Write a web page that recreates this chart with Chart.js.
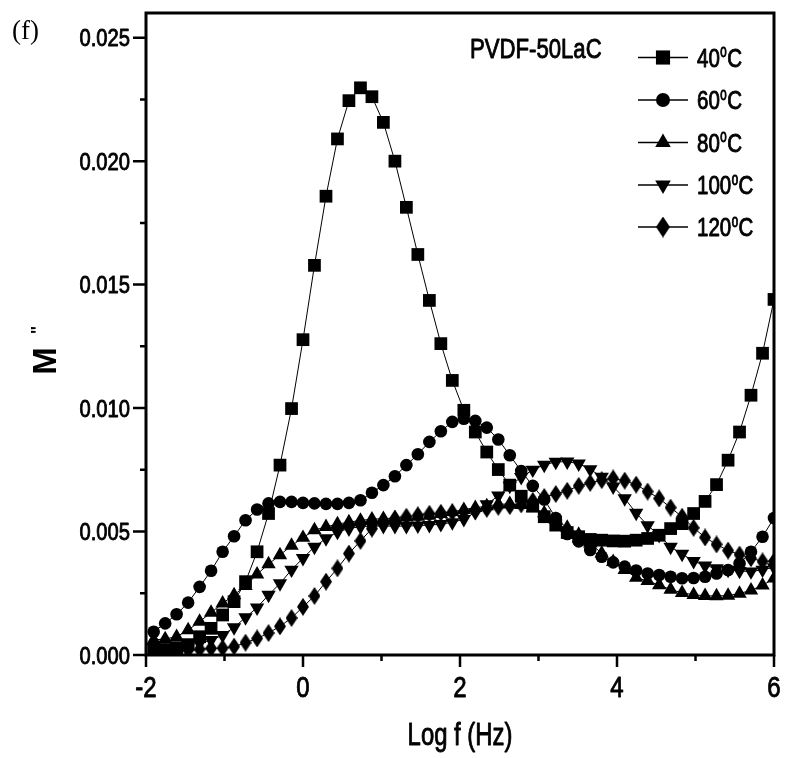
<!DOCTYPE html>
<html>
<head>
<meta charset="utf-8">
<script src="https://cdn.jsdelivr.net/npm/chart.js@4.4.0/dist/chart.umd.min.js"></script>
<style>
  html, body { margin: 0; padding: 0; background: #fff; }
  canvas { display: block; }
</style>
</head>
<body>
<canvas id="chart" width="785" height="758"></canvas>
<script>
// log f (Hz), same grid for every temperature
const logF = [
  -1.902, -1.756, -1.610, -1.463, -1.317, -1.171, -1.024, -0.878, -0.732, -0.585,
  -0.439, -0.293, -0.146, 0.000, 0.146, 0.293, 0.439, 0.585, 0.732, 0.878,
  1.024, 1.171, 1.317, 1.463, 1.610, 1.756, 1.902, 2.049, 2.195, 2.341,
  2.488, 2.634, 2.780, 2.927, 3.073, 3.220, 3.366, 3.512, 3.659, 3.805,
  3.951, 4.098, 4.244, 4.390, 4.537, 4.683, 4.829, 4.976, 5.122, 5.268,
  5.415, 5.561, 5.707, 5.854, 6.000
];

// M'' at each temperature
const m40 = [
  0.00020, 0.00022, 0.00030, 0.00042, 0.00074, 0.00108, 0.00162, 0.00216, 0.00297, 0.00418,
  0.00573, 0.00769, 0.00998, 0.01277, 0.01578, 0.01858, 0.02090, 0.02245, 0.02297, 0.02261,
  0.02157, 0.02000, 0.01813, 0.01622, 0.01436, 0.01261, 0.01112, 0.00991, 0.00903, 0.00822,
  0.00751, 0.00688, 0.00643, 0.00603, 0.00560, 0.00526, 0.00496, 0.00479, 0.00468, 0.00465,
  0.00462, 0.00461, 0.00465, 0.00472, 0.00485, 0.00512, 0.00532, 0.00573, 0.00622, 0.00690,
  0.00789, 0.00903, 0.01052, 0.01222, 0.01440
];
const m60 = [
  0.00094, 0.00128, 0.00165, 0.00212, 0.00276, 0.00341, 0.00418, 0.00481, 0.00546, 0.00589,
  0.00614, 0.00620, 0.00620, 0.00616, 0.00614, 0.00612, 0.00612, 0.00616, 0.00627, 0.00657,
  0.00688, 0.00724, 0.00769, 0.00813, 0.00863, 0.00906, 0.00944, 0.00957, 0.00948, 0.00921,
  0.00873, 0.00809, 0.00745, 0.00685, 0.00630, 0.00555, 0.00490, 0.00460, 0.00425, 0.00398,
  0.00375, 0.00358, 0.00342, 0.00330, 0.00324, 0.00317, 0.00311, 0.00312, 0.00317, 0.00330,
  0.00344, 0.00371, 0.00418, 0.00479, 0.00555
];
const m80 = [
  0.00061, 0.00065, 0.00074, 0.00101, 0.00135, 0.00172, 0.00209, 0.00243, 0.00280, 0.00327,
  0.00368, 0.00405, 0.00443, 0.00475, 0.00506, 0.00519, 0.00530, 0.00538, 0.00545, 0.00550,
  0.00552, 0.00555, 0.00557, 0.00560, 0.00565, 0.00572, 0.00580, 0.00588, 0.00596, 0.00603,
  0.00610, 0.00612, 0.00608, 0.00595, 0.00575, 0.00548, 0.00516, 0.00488, 0.00452, 0.00412,
  0.00377, 0.00345, 0.00313, 0.00300, 0.00283, 0.00265, 0.00252, 0.00244, 0.00240, 0.00239,
  0.00241, 0.00249, 0.00262, 0.00282, 0.00310
];
const m100 = [
  0.00030, 0.00030, 0.00035, 0.00040, 0.00048, 0.00060, 0.00080, 0.00112, 0.00152, 0.00192,
  0.00243, 0.00290, 0.00345, 0.00392, 0.00438, 0.00472, 0.00498, 0.00512, 0.00520, 0.00522,
  0.00522, 0.00522, 0.00522, 0.00524, 0.00526, 0.00530, 0.00537, 0.00550, 0.00578, 0.00610,
  0.00645, 0.00685, 0.00720, 0.00750, 0.00770, 0.00782, 0.00783, 0.00775, 0.00752, 0.00721,
  0.00682, 0.00634, 0.00575, 0.00525, 0.00485, 0.00438, 0.00409, 0.00380, 0.00362, 0.00351,
  0.00344, 0.00340, 0.00338, 0.00345, 0.00355
];
const m120 = [
  0.00010, 0.00012, 0.00015, 0.00019, 0.00023, 0.00027, 0.00028, 0.00034, 0.00050, 0.00067,
  0.00089, 0.00116, 0.00150, 0.00195, 0.00239, 0.00297, 0.00351, 0.00411, 0.00462, 0.00512,
  0.00540, 0.00552, 0.00560, 0.00566, 0.00572, 0.00576, 0.00578, 0.00580, 0.00584, 0.00592,
  0.00600, 0.00603, 0.00610, 0.00624, 0.00640, 0.00652, 0.00665, 0.00685, 0.00697, 0.00708,
  0.00715, 0.00706, 0.00690, 0.00662, 0.00634, 0.00597, 0.00560, 0.00515, 0.00476, 0.00448,
  0.00423, 0.00407, 0.00392, 0.00379, 0.00380
];

const temps = ["40", "60", "80", "100", "120"];
const sample = "PVDF-50LaC";

const xTicks = [-2, -1, 0, 1, 2, 3, 4, 5, 6];
const xTickLabels = ["-2", "", "0", "", "2", "", "4", "", "6"];
const yTicks = [0, 0.0025, 0.005, 0.0075, 0.01, 0.0125, 0.015, 0.0175, 0.02, 0.0225, 0.025];
const yTickLabels = ["0.000", "", "0.005", "", "0.010", "", "0.015", "", "0.020", "", "0.025"];

const SANS = "'Liberation Sans', Arial, sans-serif";
const SERIF = "'Liberation Serif', 'Times New Roman', serif";

// tall diamond marker
function diamond(w, h) {
  const c = document.createElement("canvas");
  c.width = w;
  c.height = h;
  const g = c.getContext("2d");
  g.fillStyle = "#000";
  g.beginPath();
  g.moveTo(w / 2, 0);
  g.lineTo(w, h / 2);
  g.lineTo(w / 2, h);
  g.lineTo(0, h / 2);
  g.closePath();
  g.fill();
  return c;
}

const markers = [
  { pointStyle: "rect", radius: 9, rotation: 0 },
  { pointStyle: "circle", radius: 6.3, rotation: 0 },
  { pointStyle: "triangle", radius: 8.3, rotation: 0 },
  { pointStyle: "triangle", radius: 8.3, rotation: 180 },
  { pointStyle: diamond(12, 18), radius: 9, rotation: 0 },
];
const legendMarkers = [
  { pointStyle: "rect", radius: 10, rotation: 0 },
  { pointStyle: "circle", radius: 7, rotation: 0 },
  { pointStyle: "triangle", radius: 9, rotation: 0 },
  { pointStyle: "triangle", radius: 9, rotation: 180 },
  { pointStyle: diamond(14, 21), radius: 10, rotation: 0 },
];

const series = [m40, m60, m80, m100, m120];

const datasets = series.map((vals, i) => ({
  label: temps[i] + "\u00b0C",
  data: logF.map((x, k) => ({ x: x, y: vals[k] })),
  borderColor: "#000",
  borderWidth: 1,
  backgroundColor: "#000",
  pointBackgroundColor: "#000",
  pointBorderColor: "#000",
  pointBorderWidth: 0,
  pointStyle: markers[i].pointStyle,
  pointRadius: markers[i].radius,
  pointRotation: markers[i].rotation,
  tension: 0,
  fill: false,
}));

// condensed look: Liberation Sans squeezed horizontally, lightly emboldened
function narrowText(ctx, text, x, y, size, align, sx) {
  ctx.save();
  ctx.font = size + "px " + SANS;
  ctx.translate(x, y);
  ctx.scale(sx, 1);
  ctx.textAlign = align;
  ctx.textBaseline = "alphabetic";
  ctx.lineWidth = 0.9;
  ctx.lineJoin = "round";
  ctx.fillText(text, 0, 0);
  ctx.strokeText(text, 0, 0);
  const w = ctx.measureText(text).width * sx;
  ctx.restore();
  return w;
}

// frame, outward ticks, tick labels, titles and legend
const decorations = {
  id: "decorations",
  afterDraw(chart) {
    const ctx = chart.ctx;
    const a = chart.chartArea;
    const xs = chart.scales.x;
    const ys = chart.scales.y;
    ctx.save();
    ctx.strokeStyle = "#000";
    ctx.fillStyle = "#000";

    ctx.lineWidth = 3;
    ctx.strokeRect(a.left, a.top, a.right - a.left, a.bottom - a.top);

    ctx.lineWidth = 2.5;
    ctx.beginPath();
    xTicks.forEach((v, i) => {
      const px = xs.getPixelForValue(v);
      const len = xTickLabels[i] ? 12 : 6;
      ctx.moveTo(px, a.bottom);
      ctx.lineTo(px, a.bottom + len);
    });
    yTicks.forEach((v, i) => {
      const py = ys.getPixelForValue(v);
      const len = yTickLabels[i] ? 13 : 6;
      ctx.moveTo(a.left, py);
      ctx.lineTo(a.left - len, py);
    });
    ctx.stroke();

    xTicks.forEach((v, i) => {
      if (xTickLabels[i]) narrowText(ctx, xTickLabels[i], xs.getPixelForValue(v), 697, 30, "center", 0.8);
    });
    yTicks.forEach((v, i) => {
      if (yTickLabels[i]) narrowText(ctx, yTickLabels[i], 130, ys.getPixelForValue(v) + 8.5, 24, "right", 0.84);
    });

    // x title
    narrowText(ctx, "Log f (Hz)", (a.left + a.right) / 2, 745, 31, "center", 0.77);

    // y title M''
    ctx.save();
    ctx.translate(47, 361);
    ctx.rotate(-Math.PI / 2);
    ctx.textAlign = "center";
    ctx.textBaseline = "middle";
    ctx.font = "bold 33px " + SANS;
    ctx.fillText("M", 0, 0);
    ctx.font = "bold 18px " + SANS;
    ctx.textBaseline = "alphabetic";
    ctx.fillText("\"", 31, -3);
    ctx.restore();

    // panel letter
    ctx.font = "27px " + SERIF;
    ctx.textAlign = "left";
    ctx.textBaseline = "alphabetic";
    ctx.fillText("(f)", 12, 39);

    // sample name
    narrowText(ctx, sample, 470, 58, 27, "left", 0.82);

    // legend
    const rows = [57.5, 100, 142.5, 185, 227];
    temps.forEach((t, i) => {
      const y = rows[i];
      ctx.lineWidth = 1.5;
      ctx.beginPath();
      ctx.moveTo(638, y);
      ctx.lineTo(688, y);
      ctx.stroke();
      Chart.helpers.drawPoint(ctx, {
        pointStyle: legendMarkers[i].pointStyle,
        radius: legendMarkers[i].radius,
        rotation: legendMarkers[i].rotation,
        borderWidth: 0,
      }, 663, y);
      let x = 697;
      x += narrowText(ctx, t, x, y + 9, 25, "left", 0.82) + 0.5;
      x += narrowText(ctx, "0", x, y - 0.5, 14, "left", 0.82) + 0.5;
      narrowText(ctx, "C", x, y + 9, 25, "left", 0.82);
    });

    ctx.restore();
  },
};

new Chart(document.getElementById("chart"), {
  type: "line",
  data: { datasets: datasets },
  options: {
    responsive: false,
    animation: false,
    layout: { padding: { top: 13, right: 11, left: 146, bottom: 103 } },
    plugins: {
      legend: { display: false },
      tooltip: { enabled: false },
    },
    scales: {
      x: { type: "linear", min: -2, max: 6, display: false },
      y: { type: "linear", min: 0, max: 0.026, display: false },
    },
  },
  plugins: [decorations],
});
</script>
</body>
</html>
